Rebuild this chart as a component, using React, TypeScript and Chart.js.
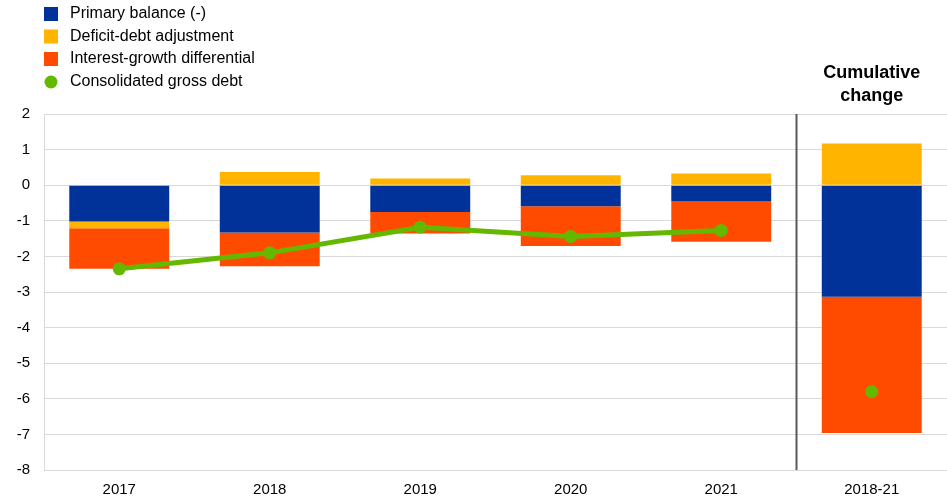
import React, { useEffect, useRef } from "react";
import { Chart, registerables } from "chart.js";

Chart.register(...registerables);

const categories = ["2017", "2018", "2019", "2020", "2021", "2018-21"];
const primaryBalance = [-1.02, -1.33, -0.75, -0.59, -0.46, -3.13];
const deficitDebtAdjustment = [-0.19, 0.37, 0.19, 0.28, 0.33, 1.17];
const interestGrowthDifferential = [-1.14, -0.95, -0.61, -1.12, -1.13, -3.83];
const consolidatedGrossDebt = [-2.35, -1.9, -1.18, -1.44, -1.27, -5.8];
const yTicks = [2, 1, 0, -1, -2, -3, -4, -5, -6, -7, -8];

const legendLabels = [
  "Primary balance (-)",
  "Deficit-debt adjustment",
  "Interest-growth differential",
  "Consolidated gross debt",
];
const cumulativeTitle = ["Cumulative", "change"];

const BLUE = "#003299";
const YELLOW = "#FFB400";
const ORANGE = "#FF4B00";
const GREEN = "#65B800";
const FONT = "'Liberation Sans', Arial, sans-serif";

const overlayPlugin = {
  id: "overlay",
  afterDraw(chart: any) {
    const ctx = chart.ctx;
    const xs = chart.scales.x;
    const area = chart.chartArea;
    ctx.save();
    const sepX = (xs.getPixelForValue(4) + xs.getPixelForValue(5)) / 2;
    ctx.strokeStyle = "#595959";
    ctx.lineWidth = 2;
    ctx.beginPath();
    ctx.moveTo(sepX, area.top);
    ctx.lineTo(sepX, area.bottom);
    ctx.stroke();
    const cx = xs.getPixelForValue(5);
    ctx.fillStyle = "#000";
    ctx.font = `bold 18px ${FONT}`;
    ctx.textAlign = "center";
    ctx.textBaseline = "middle";
    ctx.fillText(cumulativeTitle[0], cx, 73);
    ctx.fillText(cumulativeTitle[1], cx, 96);
    const colors = [BLUE, YELLOW, ORANGE, GREEN];
    const rows = [14, 36.5, 59, 82];
    ctx.font = `16px ${FONT}`;
    ctx.textAlign = "left";
    legendLabels.forEach((label, i) => {
      const y = rows[i];
      ctx.fillStyle = colors[i];
      if (i < 3) {
        ctx.fillRect(44, y - 7, 14, 14);
      } else {
        ctx.beginPath();
        ctx.arc(51, y, 6.5, 0, Math.PI * 2);
        ctx.fill();
      }
      ctx.fillStyle = "#000";
      ctx.fillText(label, 70, y);
    });
    ctx.restore();
  },
};

export default function App() {
  const ref = useRef<HTMLCanvasElement>(null);
  useEffect(() => {
    document.body.style.margin = "0";
    const barCommon = {
      borderWidth: 0,
      barPercentage: 0.664,
      categoryPercentage: 1,
      stack: "bars",
      order: 1,
    };
    const chart = new Chart(ref.current!, {
      type: "bar",
      data: {
        labels: categories,
        datasets: [
          { ...barCommon, label: legendLabels[0], data: primaryBalance, backgroundColor: BLUE },
          { ...barCommon, label: legendLabels[1], data: deficitDebtAdjustment, backgroundColor: YELLOW },
          { ...barCommon, label: legendLabels[2], data: interestGrowthDifferential, backgroundColor: ORANGE },
          {
            type: "line",
            label: legendLabels[3],
            data: consolidatedGrossDebt,
            stack: "line",
            order: 0,
            borderColor: GREEN,
            backgroundColor: GREEN,
            borderWidth: 5,
            pointRadius: 6.5,
            pointHoverRadius: 6.5,
            pointBackgroundColor: GREEN,
            pointBorderWidth: 0,
            tension: 0,
            segment: {
              borderColor: (c: any) => (c.p1DataIndex === 5 ? "rgba(0,0,0,0)" : GREEN),
            },
          } as any,
        ],
      },
      options: {
        responsive: false,
        animation: false,
        layout: { autoPadding: false, padding: { top: 114, right: 0, left: 0, bottom: 0 } },
        plugins: { legend: { display: false }, tooltip: { enabled: false } },
        scales: {
          x: {
            stacked: true,
            grid: { display: false, drawTicks: false },
            border: { display: false },
            ticks: { color: "#000", font: { family: FONT, size: 15 }, padding: 11 },
            afterFit: (s: any) => {
              s.height = 31;
              s.paddingRight = 0;
              s.paddingLeft = 0;
            },
          },
          y: {
            stacked: true,
            min: -8,
            max: 2,
            afterBuildTicks: (s: any) => {
              s.ticks = yTicks.map((v) => ({ value: v }));
            },
            grid: { color: "#d9d9d9", lineWidth: 1, drawTicks: false },
            border: { display: true, color: "#d9d9d9", width: 1 },
            ticks: { color: "#000", font: { family: FONT, size: 15 }, padding: 14 },
            afterFit: (s: any) => {
              s.width = 44;
              s.paddingTop = 0;
              s.paddingBottom = 0;
            },
          },
        },
      },
      plugins: [overlayPlugin],
    });
    return () => chart.destroy();
  }, []);
  return (
    <div style={{ position: "absolute", left: 0, top: 0, width: 947, height: 501 }}>
      <canvas ref={ref} width={947} height={501} />
    </div>
  );
}
